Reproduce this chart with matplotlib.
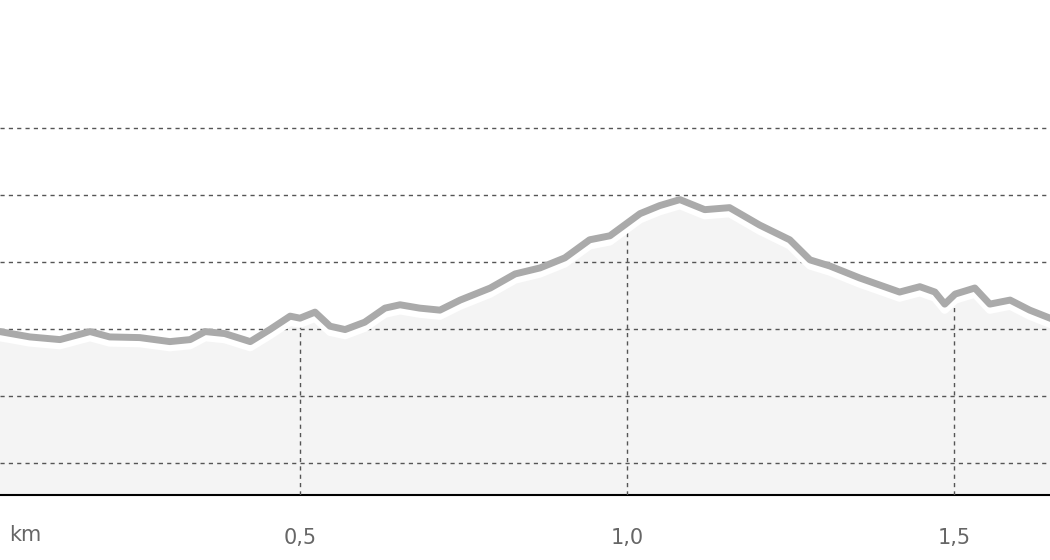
import matplotlib
matplotlib.use('Agg')
from matplotlib import pyplot as plt
import matplotlib.transforms as mtransforms
import numpy as np

dist = [0.041, 0.087, 0.133, 0.179, 0.209, 0.255, 0.301, 0.332, 0.355, 0.385,
        0.424, 0.454, 0.485, 0.500, 0.523, 0.546, 0.569, 0.599, 0.630, 0.653,
        0.683, 0.714, 0.745, 0.791, 0.829, 0.867, 0.905, 0.943, 0.974, 1.020,
        1.050, 1.081, 1.119, 1.157, 1.203, 1.249, 1.280, 1.310, 1.356, 1.417,
        1.448, 1.471, 1.486, 1.502, 1.532, 1.555, 1.586, 1.616, 1.647]
quota = [119.6, 118.8, 118.4, 119.6, 118.8, 118.7, 118.1, 118.4, 119.6, 119.3,
         118.1, 119.9, 121.9, 121.6, 122.5, 120.4, 119.9, 121.0, 123.1, 123.6,
         123.1, 122.8, 124.3, 126.1, 128.2, 129.1, 130.6, 133.3, 133.9, 137.2,
         138.4, 139.3, 137.8, 138.1, 135.5, 133.3, 130.3, 129.4, 127.6, 125.5,
         126.3, 125.5, 123.7, 125.2, 126.1, 123.7, 124.3, 122.8, 121.6]
ticks_km = [0.5, 1.0, 1.5]
tick_labels = ['0,5', '1,0', '1,5']
griglia = [100, 110, 120, 130, 140, 150]

fig = plt.figure(figsize=(10.5, 5.6), dpi=100)
ax = fig.add_axes([0, 1 - 495/560, 1, 495/560])
ax.set_xlim(0.0413, 1.647)
ax.set_ylim(95.2, 169.1)

ax.fill_between(dist, quota, 90, color='#f4f4f4', zorder=1)

for g in griglia:
    ax.axhline(g, color='#555555', lw=1, ls=(0, (3, 3)), zorder=2)

# linee verticali solo sotto il profilo
for t in ticks_km:
    ax.vlines(t, 95.2, np.interp(t, dist, quota), color='#555555', lw=1,
              ls=(0, (3, 3)), zorder=3)

off = mtransforms.offset_copy(ax.transData, fig=fig, x=0, y=-4, units='points')
ax.plot(dist, quota, color='white', lw=6, transform=off, zorder=4, solid_joinstyle='round')
ax.plot(dist, quota, color='#aaaaaa', lw=5, zorder=5, solid_joinstyle='round')

for s in ['top', 'right', 'left']:
    ax.spines[s].set_visible(False)
ax.spines['bottom'].set_color('black')
ax.spines['bottom'].set_linewidth(1.5)
ax.set_yticks([])
ax.set_xticks(ticks_km)
ax.set_xticklabels(tick_labels, fontsize=15, color='#666666')
ax.tick_params(axis='x', length=0, pad=24)
fig.text(25/1050, 1 - 535/560, 'km', fontsize=15, color='#666666', ha='center', va='center')

plt.savefig('out.png', dpi=100)
